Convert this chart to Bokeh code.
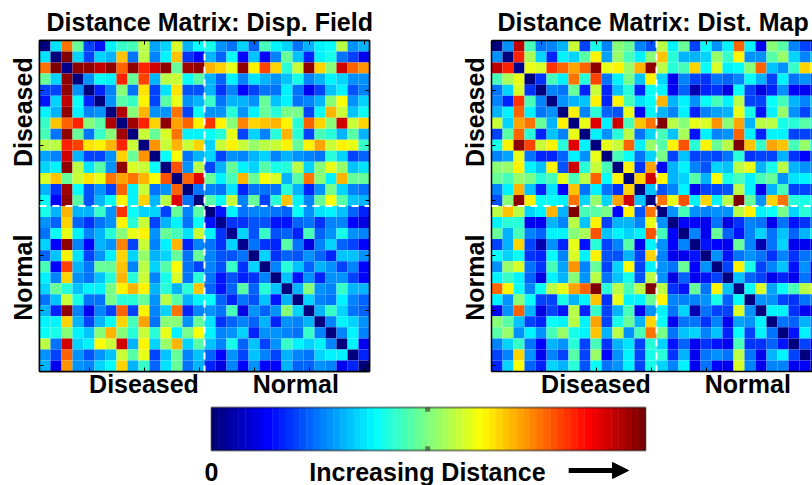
import math
import numpy as np
from bokeh.core.properties import value
from bokeh.embed import file_html
from bokeh.resources import INLINE
from bokeh.layouts import column, row
from bokeh.models import (ColumnDataSource, FixedTicker, LinearAxis, LinearColorMapper,
                          Range1d, Span, Title)
from bokeh.plotting import figure

# Upper triangles (diagonal first) of the two symmetric matrices, read as 0-100 on the jet scale
disp_field_upper = [
    [0,35,76,47,20,15,36,43,45,56,29,34,58,30,39,40,28,24,33,22,44,36,33,24,31,36,38,56,27,31],
    [0,100,34,20,33,30,68,24,55,26,36,68,18,14,30,22,38,13,32,14,26,48,32,16,36,40,24,20,11],
    [3,97,97,93,98,78,98,84,92,98,48,96,98,70,67,60,98,63,80,67,42,57,98,67,50,92,78,72],
    [0,27,39,36,83,47,80,30,55,57,38,46,31,22,36,25,35,31,28,32,40,26,30,36,34,27,27],
    [0,16,25,50,24,65,20,35,65,21,21,31,18,25,14,20,24,24,36,24,11,19,32,36,21,25],
    [0,28,46,43,63,20,46,60,28,31,43,24,30,30,28,47,32,36,24,25,30,50,62,27,33],
    [0,94,50,70,27,27,75,20,38,28,28,42,27,37,48,42,49,49,20,38,70,57,32,38],
    [0,96,84,66,98,71,78,64,82,63,50,74,67,68,70,64,42,78,66,50,92,57,66],
    [0,57,47,59,76,36,36,39,42,60,19,34,26,42,70,42,19,45,42,31,46,30],
    [0,72,57,69,57,67,34,57,63,57,53,55,57,64,48,63,71,57,63,60,43],
    [0,38,61,24,31,33,20,28,25,30,33,26,31,28,25,24,42,33,20,23],
    [0,79,27,56,20,31,47,36,33,46,40,42,56,34,50,60,52,32,35],
    [0,77,90,47,36,45,70,47,62,58,30,46,75,50,36,69,47,47],
    [0,24,26,24,35,16,24,24,24,42,30,16,28,49,34,26,24],
    [0,46,38,57,25,47,20,42,68,36,25,47,62,46,32,31],
    [0,15,36,24,26,25,24,23,38,28,35,36,32,22,17],
    [3,18,18,21,21,15,15,22,24,18,25,25,14,10],
    [2,33,21,43,21,22,16,44,23,27,40,28,26],
    [2,24,18,17,46,24,10,26,33,22,20,13],
    [1,33,18,23,21,27,23,17,32,32,28],
    [0,26,42,32,23,31,27,20,26,13],
    [1,32,15,28,17,27,27,20,13],
    [1,31,50,27,26,43,30,31],
    [0,33,26,24,36,26,22],
    [1,31,43,34,24,22],
    [0,25,37,33,28],
    [0,26,37,25],
    [1,37,12],
    [0,17],
    [1],
]
dist_map_upper = [
    [0,28,93,45,24,25,31,57,19,40,25,50,48,25,21,55,37,48,20,39,28,36,78,36,12,50,46,26,20,16],
    [0,84,54,33,16,36,34,46,63,29,52,44,36,50,68,41,31,31,34,52,43,64,28,28,46,52,34,25,33],
    [2,60,59,82,78,71,78,98,60,63,52,69,98,55,41,44,67,38,59,36,38,51,77,32,28,43,66,62],
    [0,18,44,36,75,42,80,24,36,49,32,64,34,11,26,20,18,24,22,26,38,30,20,36,24,28,23],
    [0,26,24,48,17,57,17,32,41,16,39,36,11,22,5,16,18,10,38,20,10,16,27,13,12,16],
    [1,27,30,32,63,17,63,44,35,38,69,31,37,28,38,45,37,56,19,19,39,44,31,25,34],
    [1,64,25,42,23,21,60,13,36,30,25,36,16,25,29,31,60,40,15,36,52,28,20,30],
    [0,60,90,37,91,44,68,75,100,55,50,60,58,72,50,71,31,56,55,40,42,46,42],
    [0,37,28,42,56,24,33,45,32,54,15,36,25,28,78,36,16,37,37,20,20,21],
    [1,60,57,77,36,53,46,64,79,42,64,47,55,99,68,43,71,68,44,52,38],
    [0,44,38,24,33,49,19,32,19,21,19,24,41,18,19,19,31,18,14,24],
    [0,64,18,71,14,31,36,25,21,33,32,56,60,31,40,56,31,28,28],
    [0,66,91,64,31,34,46,31,62,40,44,36,45,48,27,35,37,37],
    [0,32,21,25,36,11,19,20,21,56,36,11,31,45,20,20,20],
    [0,75,60,79,36,67,36,56,100,48,28,67,75,42,40,40],
    [0,28,44,27,26,28,28,55,64,36,38,49,34,42,33],
    [1,13,14,12,24,10,18,26,24,11,24,15,18,25],
    [1,25,12,47,22,15,26,33,24,32,23,31,37],
    [0,15,14,11,48,26,5,24,33,12,12,12],
    [1,27,15,24,27,24,18,25,18,24,24],
    [0,20,64,40,20,25,32,15,28,13],
    [1,32,22,20,11,17,11,24,12],
    [1,38,58,29,38,44,55,58],
    [0,27,28,20,18,24,26],
    [0,36,36,18,12,12],
    [0,24,23,31,25],
    [0,15,37,25],
    [1,19,11],
    [0,14],
    [0],
]
titles = ["Distance Matrix: Disp. Field", "Distance Matrix: Dist. Map"]
group_labels = ["Diseased", "Normal"]
tick_positions = [5, 10, 15, 20, 25, 30]
bar_levels = list(range(64))
FONT = "Liberation Sans"


def jet(n):
    x = np.linspace(0, 1, n)
    r = np.clip(np.minimum(4 * x - 1.5, -4 * x + 4.5), 0, 1)
    g = np.clip(np.minimum(4 * x - 0.5, -4 * x + 3.5), 0, 1)
    b = np.clip(np.minimum(4 * x + 0.5, -4 * x + 2.5), 0, 1)
    return ["#%02x%02x%02x" % (int(a * 255), int(c * 255), int(d * 255)) for a, c, d in zip(r, g, b)]


PAL = jet(64)
mapper = LinearColorMapper(palette=PAL, low=0, high=100)


def matrix_panel(upper, title, width, frame_w, x_end, right_edge, title_offset):
    left = 39
    xs, ys, vs = [], [], []
    for i, r in enumerate(upper):
        for k, v in enumerate(r):
            j = i + k
            xs.append(j + 1); ys.append(i + 1); vs.append(v)
            if j != i:
                xs.append(i + 1); ys.append(j + 1); vs.append(v)
    src = ColumnDataSource(dict(x=xs, y=ys, v=vs))
    p = figure(width=width, height=403, frame_width=frame_w, frame_height=331,
               x_range=Range1d(0.5, x_end), y_range=Range1d(30.5, 0.5),
               x_axis_type=None, y_axis_type=None, toolbar_location=None,
               output_backend="svg", min_border_left=left, min_border_top=40,
               min_border_bottom=32, min_border_right=width - left - frame_w)
    p.grid.visible = False
    p.outline_line_color = "black" if right_edge else None
    p.outline_line_width = 1.5
    p.rect("x", "y", width=1, height=1, source=src, line_color=None,
           fill_color={"field": "v", "transform": mapper})
    base = dict(minor_tick_in=4, minor_tick_out=0, major_tick_in=0, major_tick_out=0,
                axis_line_color="black", axis_line_width=1.5, minor_tick_line_color="black",
                major_label_text_font=FONT, major_label_text_font_style="bold",
                major_label_text_font_size="25px", major_label_text_color="black")
    bottom = LinearAxis(ticker=FixedTicker(ticks=[10, 23.8], minor_ticks=tick_positions),
                        major_label_overrides={10: group_labels[0], 23.8: group_labels[1]},
                        major_label_standoff=-2, **base)
    p.add_layout(bottom, "below")
    left_ax = LinearAxis(ticker=FixedTicker(ticks=[7, 22], minor_ticks=tick_positions),
                         major_label_overrides={7: group_labels[0], 22: group_labels[1]},
                         major_label_orientation="vertical", major_label_standoff=2, **base)
    p.add_layout(left_ax, "left")
    plain = {k: v for k, v in base.items() if not k.startswith("major_label")}
    p.add_layout(LinearAxis(ticker=FixedTicker(ticks=[], minor_ticks=tick_positions), **plain), "above")
    if right_edge:
        p.add_layout(LinearAxis(ticker=FixedTicker(ticks=[], minor_ticks=tick_positions), **plain), "right")
    dash = "7 6"
    p.add_layout(Span(location=15.5, dimension="height", line_color="white", line_width=2, line_dash=dash))
    p.add_layout(Span(location=15.5, dimension="width", line_color="white", line_width=2, line_dash=dash))
    p.add_layout(Title(text=title, align="left", text_font=FONT, text_font_style="bold",
                       text_font_size="25px", text_color="black", standoff=9, offset=title_offset), "above")
    return p


p1 = matrix_panel(disp_field_upper, titles[0], 452, 330, 30.5, True, 7)
p2 = matrix_panel(dist_map_upper, titles[1], 360, 321, 0.5 + 321 / 11, False, 6)

# colour bar: the frame fills its canvas so that the text and the arrow lie inside it
BAR_PX = 434.0
BAR_H = 43.0
p3 = figure(width=812, height=82, frame_width=812, frame_height=82,
            x_range=Range1d(-211 / BAR_PX, 601 / BAR_PX), y_range=Range1d(-35 / BAR_H, 1 + 4 / BAR_H),
            x_axis_type=None, y_axis_type=None, toolbar_location=None, output_backend="svg",
            min_border_left=0, min_border_right=0, min_border_top=0, min_border_bottom=0)
p3.grid.visible = False
p3.outline_line_color = None
p3.rect(x=[(k + 0.5) / 64 for k in bar_levels], y=0.5, width=1 / 64 + 0.001, height=1,
        fill_color=[PAL[k] for k in bar_levels], line_color=None)
p3.rect(x=[0.5], y=[0.5], width=1, height=1, fill_color=None, line_color="black", line_alpha=0.45, line_width=2)
p3.segment(x0=[0.498, 0.498], y0=[1.0, 0.0], x1=[0.498, 0.498], y1=[0.9, 0.1], line_color="#333333",
           line_alpha=0.6, line_width=5)
lab = dict(text_font=value(FONT), text_font_style="bold", text_color="black", text_align="center",
           text_baseline="middle", text_font_size="25px")
p3.text(x=[0.0, 0.4976], y=[-0.51, -0.51], text=["0", "Increasing Distance"], **lab)
p3.segment(x0=[0.823], y0=[-0.465], x1=[0.93], y1=[-0.465], line_color="black", line_width=5)
p3.patch(x=[0.924, 0.961, 0.924], y=[-0.28, -0.465, -0.65], fill_color="black", line_color="black")

layout = column(row(p1, p2, spacing=0), p3, spacing=0)
open("out.html", "w").write(file_html(layout, INLINE))
